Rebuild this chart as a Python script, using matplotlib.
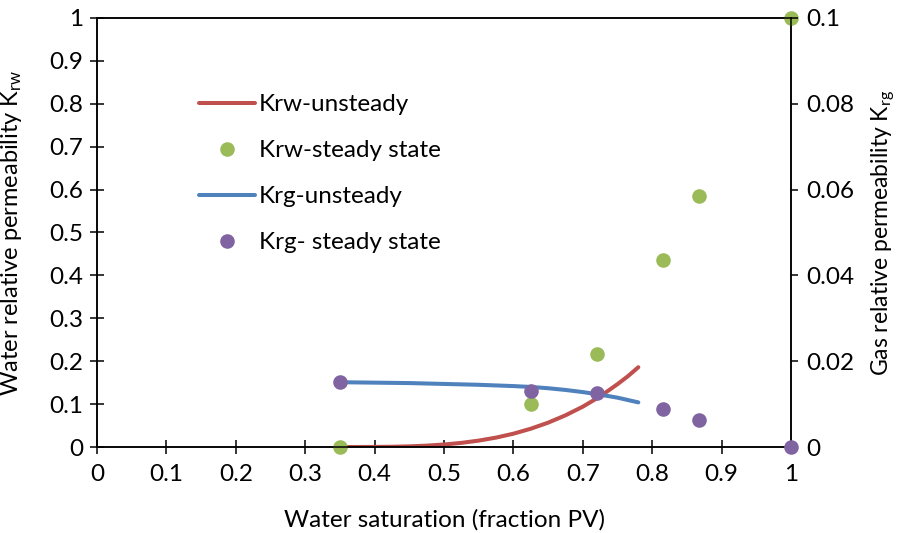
import matplotlib
matplotlib.use("Agg")
import matplotlib.pyplot as plt
from matplotlib.ticker import MultipleLocator

plt.rcParams['font.family'] = ['Lato', 'DejaVu Sans']
plt.rcParams['mathtext.fontset'] = 'custom'
plt.rcParams['mathtext.rm'] = 'Lato'
plt.rcParams['mathtext.it'] = 'Lato'

# Unsteady-state Krw curve
sw_krw_unsteady = [0.35, 0.375, 0.40, 0.425, 0.45, 0.475, 0.50, 0.525, 0.55, 0.575,
                   0.60, 0.625, 0.65, 0.675, 0.70, 0.725, 0.75, 0.765, 0.78]
krw_unsteady = [0.0, 0.0, 0.0002, 0.0006, 0.0015, 0.0032, 0.0058, 0.0096, 0.0149, 0.0219,
                0.031, 0.0426, 0.0567, 0.0738, 0.094, 0.118, 0.1465, 0.165, 0.186]

# Unsteady-state Krg curve
sw_krg_unsteady = [0.35, 0.40, 0.45, 0.50, 0.55, 0.60, 0.625, 0.65, 0.675, 0.70,
                   0.725, 0.75, 0.78]
krg_unsteady = [0.0151, 0.0150, 0.0149, 0.0147, 0.0145, 0.0142, 0.0140, 0.0137, 0.0133,
                0.0128, 0.0122, 0.0115, 0.0104]

# Steady-state measurements
sw_steady = [0.35, 0.625, 0.72, 0.815, 0.867, 1.0]
krw_steady = [0.0, 0.100, 0.217, 0.437, 0.585, 1.0]
krg_steady = [0.0151, 0.0130, 0.0126, 0.0088, 0.0063, 0.0]

red = '#c0504d'
green = '#9bbb59'
blue = '#4f81bd'
purple = '#8064a2'
fs = 17.5

fig = plt.figure(figsize=(9.02, 5.33), dpi=100)
ax = fig.add_axes([97 / 902, 1 - 447 / 533, (791 - 97) / 902, (447 - 18) / 533])
ax2 = ax.twinx()

l1, = ax.plot(sw_krw_unsteady, krw_unsteady, color=red, lw=2.9,
              solid_capstyle='round', solid_joinstyle='round', label='Krw-unsteady')
l2, = ax.plot(sw_steady, krw_steady, 'o', color=green, ms=10.5, mec='none',
              label='Krw-steady state', clip_on=False, zorder=5)
l3, = ax2.plot(sw_krg_unsteady, krg_unsteady, color=blue, lw=2.9,
               solid_capstyle='round', solid_joinstyle='round', label='Krg-unsteady')
l4, = ax2.plot(sw_steady, krg_steady, 'o', color=purple, ms=10.5, mec='none',
               label='Krg- steady state', clip_on=False, zorder=5)

ax.set_xlim(0, 1)
ax.set_ylim(0, 1)
ax2.set_ylim(0, 0.1)

ax.xaxis.set_major_locator(MultipleLocator(0.1))
ax.yaxis.set_major_locator(MultipleLocator(0.1))
ax2.yaxis.set_major_locator(MultipleLocator(0.02))
fmt = plt.FuncFormatter(lambda v, p: f"{v:g}")
ax.xaxis.set_major_formatter(fmt)
ax.yaxis.set_major_formatter(fmt)
ax2.yaxis.set_major_formatter(fmt)

for a in (ax, ax2):
    for s in a.spines.values():
        s.set_linewidth(1.1)
        s.set_color('black')

ax.tick_params(axis='both', direction='inout', length=10, width=1.1,
               labelsize=fs, colors='black', pad=5)
ax.tick_params(axis='x', pad=7)
ax2.tick_params(axis='y', direction='out', length=5, width=1.1,
                labelsize=fs, colors='black', pad=6)

ax.set_xlabel('Water saturation (fraction PV)', fontsize=fs)
ax.xaxis.set_label_coords(0.5, -0.145)
ax.set_ylabel('Water relative permeability K$_{\\mathrm{rw}}$', fontsize=17)
ax.yaxis.set_label_coords(-0.105, 0.5)
ax2.set_ylabel('Gas relative permeability K$_{\\mathrm{rg}}$', fontsize=16.5)
ax2.yaxis.set_label_coords(1.113, 0.5)

fig.legend(handles=[l1, l2, l3, l4], loc='upper left',
           bbox_to_anchor=(199 / 902, 1 - 94 / 533), bbox_transform=fig.transFigure,
           frameon=False, fontsize=fs, borderpad=0, handlelength=2.3,
           handletextpad=0.15, labelspacing=1.03, borderaxespad=0)

fig.savefig('out.png', dpi=100)
